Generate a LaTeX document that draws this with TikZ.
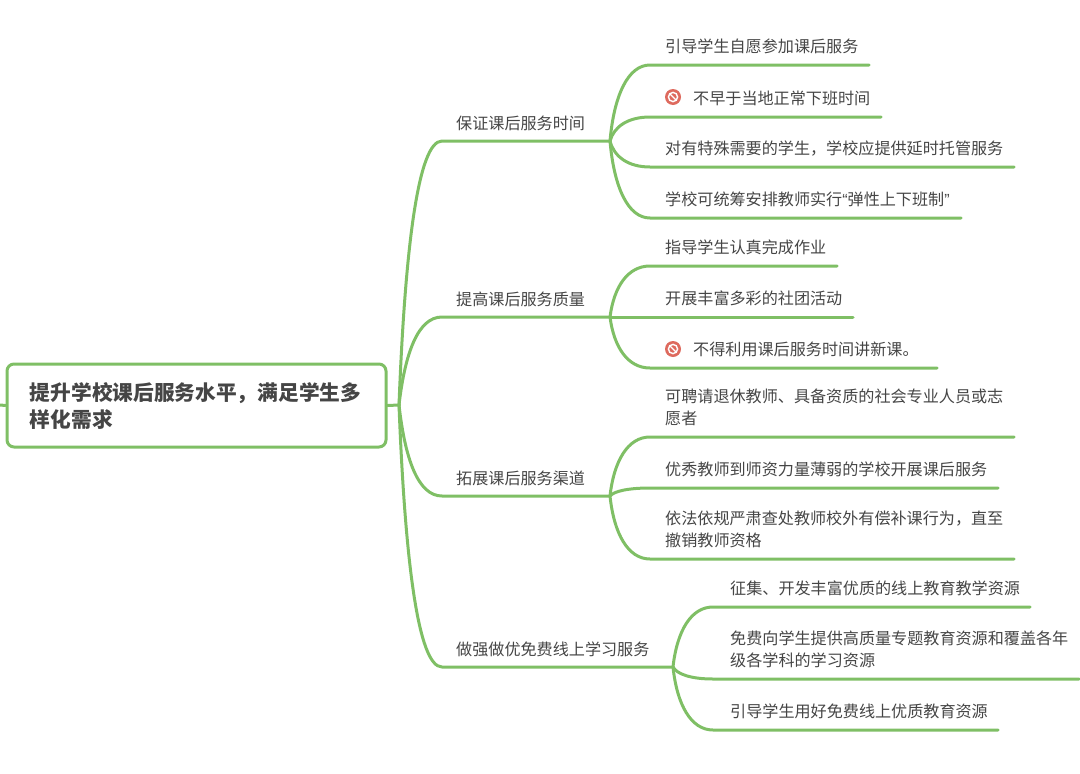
\documentclass[tikz,border=0pt]{standalone}
\usepackage{fontspec}
\setmainfont{Noto Sans CJK SC}
\newfontfamily\quotefont{Liberation Sans}
\definecolor{mapgreen}{HTML}{7FBF65}
\definecolor{mapink}{HTML}{454545}
\definecolor{banred}{HTML}{DE6A5E}
\tikzset{
  branchline/.style={draw=mapgreen, line width=3pt, line cap=round},
  rootbox/.style={draw=mapgreen, line width=3pt, rounded corners=7pt, fill=white, minimum width=379pt, minimum height=83pt, text width=333pt, inner xsep=23pt, inner ysep=0pt, align=left, text=mapink, font=\fontsize{20.7pt}{27pt}\selectfont\bfseries},
  topiclabel/.style={anchor=south west, inner sep=0pt, text=mapink, font=\fontsize{16.1pt}{22pt}\selectfont},
  leaflabel/.style={anchor=south west, inner sep=0pt, align=left, text=mapink, font=\fontsize{16.1pt}{21.5pt}\selectfont},
  banicon/.style={circle, fill=banred, minimum size=16pt, inner sep=0pt}
}
\begin{document}
\begin{tikzpicture}[x=1pt, y=-1pt]
\useasboundingbox (0,0) rectangle (1080,774);
\def\jx{399}
\def\jy{405}
% root
\node[rootbox] (root) at (196.5,405.5) {提升学校课后服务水平，满足学生多\\样化需求};
\coordinate (rootin) at (0,405);
\coordinate (junction) at (\jx,\jy);
\draw[branchline] (rootin) -- (root.west);
\draw[branchline] (root.east) -- (junction);
% topics
\foreach \name/\fx/\fy/\txt in {topicA/610/141/保证课后服务时间, topicB/610/317/提高课后服务质量, topicC/610/496/拓展课后服务渠道, topicD/673/667/做强做优免费线上学习服务} {
  \node[topiclabel] (\name) at (456,\fy-10) {\txt};
  \coordinate (\name fork) at (\fx,\fy);
  \draw[branchline] (junction) .. controls (\jx+6,{\jy+0.59*(\fy-\jy)}) and (\jx+19,\fy) .. (\jx+43,\fy) -- (\name fork);
}
% first group
\begin{scope}
\def\fx{610}
\def\fy{141}
\foreach \name/\tx/\y/\xend/\txt in {leafAa/665/65/869/引导学生自愿参加课后服务, leafAb/693/117/881/不早于当地正常下班时间, leafAc/665/167/1014/对有特殊需要的学生，学校应提供延时托管服务, leafAd/665/218/961/学校可统筹安排教师实行{\quotefont “}弹性上下班制{\quotefont ”}} {
  \node[leaflabel] (\name) at (\tx,\y-11) {\txt};
  \coordinate (\name end) at (\xend,\y);
  \draw[branchline] (topicAfork) .. controls (\fx+4,{\fy+0.6*(\y-\fy)}) and (\fx+18,\y) .. (\fx+40,\y) -- (\name end);
}
\end{scope}
% second group
\begin{scope}
\def\fx{610}
\def\fy{317}
\foreach \name/\tx/\y/\xend/\txt in {leafBa/665/266/837/指导学生认真完成作业, leafBb/665/317/853/开展丰富多彩的社团活动, leafBc/693/368/937/不得利用课后服务时间讲新课。} {
  \node[leaflabel] (\name) at (\tx,\y-11) {\txt};
  \coordinate (\name end) at (\xend,\y);
  \draw[branchline] (topicBfork) .. controls (\fx+4,{\fy+0.6*(\y-\fy)}) and (\fx+18,\y) .. (\fx+40,\y) -- (\name end);
}
\end{scope}
% third group
\begin{scope}
\def\fx{610}
\def\fy{496}
\foreach \name/\tx/\y/\xend/\txt in {leafCa/665/437/1014/{可聘请退休教师、具备资质的社会专业人员或志\\愿者}, leafCb/665/488/998/优秀教师到师资力量薄弱的学校开展课后服务, leafCc/665/559/1014/{依法依规严肃查处教师校外有偿补课行为，直至\\撤销教师资格}} {
  \node[leaflabel] (\name) at (\tx,\y-11) {\txt};
  \coordinate (\name end) at (\xend,\y);
  \draw[branchline] (topicCfork) .. controls (\fx+4,{\fy+0.6*(\y-\fy)}) and (\fx+18,\y) .. (\fx+40,\y) -- (\name end);
}
\end{scope}
% fourth group
\begin{scope}
\def\fx{673}
\def\fy{667}
\foreach \name/\tx/\y/\xend/\txt in {leafDa/730/607/1030/征集、开发丰富优质的线上教育教学资源, leafDb/730/679/1079/{免费向学生提供高质量专题教育资源和覆盖各年\\级各学科的学习资源}, leafDc/730/730/998/引导学生用好免费线上优质教育资源} {
  \node[leaflabel] (\name) at (\tx,\y-11) {\txt};
  \coordinate (\name end) at (\xend,\y);
  \draw[branchline] (topicDfork) .. controls (\fx+4,{\fy+0.6*(\y-\fy)}) and (\fx+18,\y) .. (\fx+40,\y) -- (\name end);
}
\end{scope}
% ban marks
\foreach \name/\y in {banA/97, banB/349} {
  \node[banicon] (\name) at (673,\y) {};
  \draw[white, line width=1.4pt] (\name.center) circle (4.6pt);
  \draw[white, line width=1.4pt] ([shift={(-3.2,-3.2)}]\name.center) -- ([shift={(3.2,3.2)}]\name.center);
}
\end{tikzpicture}
\end{document}
